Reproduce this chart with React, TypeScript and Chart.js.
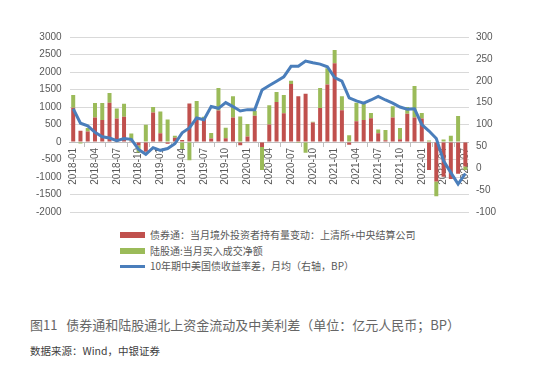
import React, { useEffect, useRef } from 'react';
import { Chart, registerables } from 'chart.js';

Chart.register(...registerables);

const months = [
  '2018-01', '2018-02', '2018-03', '2018-04', '2018-05', '2018-06', '2018-07', '2018-08', '2018-09', '2018-10', '2018-11', '2018-12',
  '2019-01', '2019-02', '2019-03', '2019-04', '2019-05', '2019-06', '2019-07', '2019-08', '2019-09', '2019-10', '2019-11', '2019-12',
  '2020-01', '2020-02', '2020-03', '2020-04', '2020-05', '2020-06', '2020-07', '2020-08', '2020-09', '2020-10', '2020-11', '2020-12',
  '2021-01', '2021-02', '2021-03', '2021-04', '2021-05', '2021-06', '2021-07', '2021-08', '2021-09', '2021-10', '2021-11', '2021-12',
  '2022-01', '2022-02', '2022-03', '2022-04', '2022-05', '2022-06', '2022-07',
];

// 债券通：当月境外投资者持有量变动（亿元）
const bondConnect = [
  980, 320, 300, 700, 630, 1120, 670, 720, 30, -100, -280, 840,
  250, -50, 120, 60, 1100, 710, 680, 100, 900, 110, 700, -90,
  160, 750, -140, 500, 1140, 820, 1660, 1310, 1380, 560, 970, 1640,
  2250, 910, -80, 590, 630, 680, 250, 50, 700, 80, 810, 700,
  670, -800, -1130, -990, -1060, -910, -700,
];

// 陆股通：当月买入成交净额（亿元）
const stockConnect = [
  360, -40, 100, 415, 485, 280, 290, 370, 210, -200, 490, 160,
  620, 640, 60, -200, -520, 460, 40, 160, 640, 300, 610, 730,
  355, 140, -660, 550, 290, 520, 90, -30, -310, 20, 570, 470,
  380, 400, 190, 535, 495, 150, 105, 290, 320, 320, 190, 900,
  160, 45, -420, 75, 180, 740, -100,
];

// 10年期中美国债收益率差，月均（BP）
const spread = [
  136, 103, 97, 82, 72, 69, 63, 68, 66, 43, 32, 47,
  41, 45, 56, 81, 92, 115, 111, 141, 137, 150, 141, 131,
  134, 134, 179, 189, 199, 209, 233, 233, 245, 241, 238, 232,
  207, 199, 161, 154, 149, 156, 164, 156, 149, 140, 135, 136,
  100, 85, 68, 17, -10, -36, -12,
];

const seriesNames = [
  '债券通：当月境外投资者持有量变动：上清所+中央结算公司',
  '陆股通:当月买入成交净额',
  '10年期中美国债收益率差，月均（右轴，BP）',
];
const seriesColors = ['#C0504D', '#9BBB59', '#4A7EBB'];

const leftAxis = { min: -2000, max: 3000, step: 500 };
const rightAxis = { min: -100, max: 300, step: 50 };

const caption = '图11   债券通和陆股通北上资金流动及中美利差（单位：亿元人民币；BP）';
const source = '数据来源：Wind，中银证券';

const FONT = 'Arial, "Liberation Sans", "Noto Sans CJK SC", sans-serif';
const CJK = '"Noto Sans CJK SC", "Liberation Sans", sans-serif';
const TEXT = '#595959';

export default function App() {
  const canvasRef = useRef<HTMLCanvasElement | null>(null);

  useEffect(() => {
    if (!canvasRef.current) return;
    const chart = new Chart(canvasRef.current, {
      type: 'bar',
      data: {
        labels: months,
        datasets: [
          {
            type: 'line',
            label: seriesNames[2],
            data: spread,
            yAxisID: 'y1',
            borderColor: seriesColors[2],
            backgroundColor: seriesColors[2],
            borderWidth: 3,
            pointRadius: 0,
            tension: 0,
            order: 0,
          },
          {
            type: 'bar',
            label: seriesNames[0],
            data: bondConnect,
            yAxisID: 'y',
            backgroundColor: seriesColors[0],
            stack: 's',
            order: 1,
            categoryPercentage: 0.55,
            barPercentage: 1,
          },
          {
            type: 'bar',
            label: seriesNames[1],
            data: stockConnect,
            yAxisID: 'y',
            backgroundColor: seriesColors[1],
            stack: 's',
            order: 2,
            categoryPercentage: 0.55,
            barPercentage: 1,
          },
        ] as any,
      },
      options: {
        animation: false,
        responsive: true,
        maintainAspectRatio: false,
        layout: { padding: { top: 37, left: 28, right: 43, bottom: 4 } },
        plugins: {
          legend: { display: false },
          tooltip: { enabled: false },
        },
        scales: {
          x: {
            stacked: true,
            position: { y: 0 } as any,
            border: { display: true, color: '#BFBFBF', width: 1 },
            grid: {
              display: true,
              drawOnChartArea: false,
              drawTicks: true,
              tickLength: 4,
              color: '#BFBFBF',
              offset: true,
            },
            ticks: {
              autoSkip: false,
              minRotation: 90,
              maxRotation: 90,
              padding: 2,
              color: TEXT,
              font: { family: FONT, size: 10 },
              callback: (_v: any, i: number) => (i % 3 === 0 ? months[i] : null),
            },
          },
          y: {
            stacked: true,
            position: 'left',
            min: leftAxis.min,
            max: leftAxis.max,
            border: { display: false },
            grid: { color: '#D9D9D9', lineWidth: 1, drawTicks: false },
            ticks: {
              stepSize: leftAxis.step,
              padding: 8,
              color: TEXT,
              font: { family: FONT, size: 10 },
              callback: (v: any) => String(v),
            },
          },
          y1: {
            position: 'right',
            min: rightAxis.min,
            max: rightAxis.max,
            border: { display: false },
            grid: { display: false, drawTicks: false },
            ticks: {
              stepSize: rightAxis.step,
              padding: 7,
              color: TEXT,
              font: { family: FONT, size: 10 },
              callback: (v: any) => String(v),
            },
          },
        },
      },
    });
    return () => chart.destroy();
  }, []);

  const legendRow = (top: number, kind: 'box' | 'line', color: string, text: string) => (
    <div style={{ position: 'absolute', left: 120, top, height: 14, display: 'flex', alignItems: 'center' }}>
      <div
        style={{
          width: 25,
          height: kind === 'box' ? 6 : 3,
          background: color,
          marginRight: 5,
        }}
      />
      <span style={{ fontFamily: CJK, fontSize: 10, color: TEXT, whiteSpace: 'nowrap', lineHeight: '14px' }}>{text}</span>
    </div>
  );

  return (
    <div style={{ position: 'absolute', left: 0, top: 0, width: 546, height: 376, background: '#fff', overflow: 'hidden' }}>
      <div style={{ position: 'absolute', left: 0, top: 0, width: 546, height: 226 }}>
        <canvas ref={canvasRef} />
      </div>
      {legendRow(228, 'box', seriesColors[0], seriesNames[0])}
      {legendRow(243.5, 'box', seriesColors[1], seriesNames[1])}
      {legendRow(259, 'line', seriesColors[2], seriesNames[2])}
      <div
        style={{
          position: 'absolute',
          left: 30,
          top: 316,
          fontFamily: CJK,
          fontSize: 13,
          color: '#666',
          whiteSpace: 'pre',
          lineHeight: '18px',
        }}
      >
        {caption}
      </div>
      <div
        style={{
          position: 'absolute',
          left: 30,
          top: 343,
          fontFamily: CJK,
          fontSize: 10.5,
          color: '#404040',
          whiteSpace: 'pre',
          lineHeight: '16px',
        }}
      >
        {source}
      </div>
    </div>
  );
}
